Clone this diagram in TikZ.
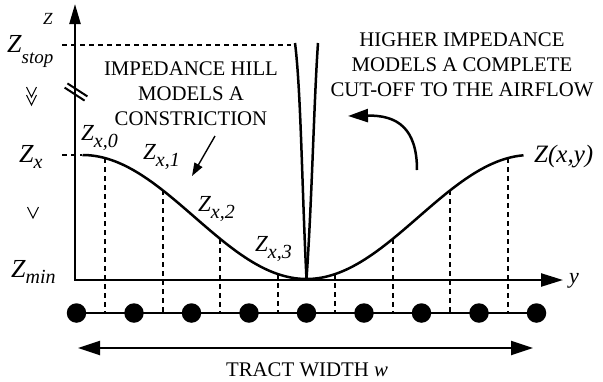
\documentclass[tikz,border=0pt]{standalone}
\usepackage{fontspec}
\setmainfont{Liberation Serif}
\usetikzlibrary{arrows.meta}
\newcommand\ZZ[4]{{\fontsize{#1}{#1}\selectfont\itshape Z}\raisebox{-#3}{\fontsize{#2}{#2}\selectfont\itshape #4}}
\begin{document}
\begin{tikzpicture}[x=1pt,y=-1pt,
  curve/.style={line width=2.5pt},
  dsh/.style={line width=2.3pt, dash pattern=on 5pt off 4pt},
  vmark/.style={line width=1pt},
  lbl/.style={inner sep=0pt, anchor=base west},
  captxt/.style={inner sep=0pt, anchor=base, font=\fontsize{20.8}{25}\selectfont},
  dot/.style={circle, fill=black, inner sep=0pt, minimum size=19.5pt},
]
\useasboundingbox (0,0) rectangle (603,381);
% axes
\coordinate (ytop) at (75,4);
\coordinate (O) at (75,280);
\coordinate (xend) at (563,280);
\draw[line width=2.3pt, arrows={Triangle[length=20pt,width=11pt]-Triangle[length=22pt,width=13pt]}] (ytop) -- (O) -- (xend);
% axis break
\draw[line width=2pt] (67.4,83.4) -- (87.4,96.4);
\draw[line width=2pt] (64.6,87.6) -- (84.6,100.6);
% much-greater marks
\draw[vmark] (26.5,87) -- (31.5,97) -- (36.5,87);
\draw[vmark] (26.5,95) -- (31.5,105) -- (36.5,95);
\draw[vmark] (27.5,207) -- (33,218) -- (38.5,207);
% dashed levels
\draw[dsh] (62,45) -- (291,45);
\draw[dsh] (62,155) -- (82,155);
% impedance curve
\draw[curve] plot[domain=-224:217,samples=150] ({306.5+\x},{279-62*(1-cos(\x/224*180))});
% spike
\draw[curve] (306.5,279) .. controls (302,190) and (301,90) .. (295,43);
\draw[curve] (306.5,279) .. controls (312,200) and (314,100) .. (318,43);
% sample lines
\foreach \i in {0,...,7}{
  \pgfmathsetmacro\xx{105.25+57.5*\i}
  \pgfmathsetmacro\yy{279-62*(1-cos((\xx-306.5)/224*180))}
  \draw[dsh] (\xx,\yy) -- (\xx,313);
}
% dots
\foreach \i in {0,...,8}{
  \node[dot] (d\i) at ({76.5+57.5*\i},313) {};
}
\draw[line width=2.3pt] (d0.center) -- (d8.center);
% width arrow
\coordinate (wl) at (78,348);
\coordinate (wr) at (533,348);
\draw[line width=2.3pt, {Triangle[length=22pt,width=14pt]}-{Triangle[length=22pt,width=14pt]}] (wl) -- (wr);
\node[captxt] (tw) at (307,376) {TRACT WIDTH \textit{w}};
% curved arrow
\coordinate (ca) at (417,170);
\coordinate (cb) at (348,116);
\draw[line width=2.5pt,-{Triangle[length=20pt,width=13pt]}] (ca) .. controls (417,128) and (397,115) .. (cb);
% small pointer
\coordinate (pa) at (215,136);
\coordinate (pb) at (192,176);
\draw[line width=1.4pt,-{Triangle[length=13pt,width=9pt]}] (pa) -- (pb);
% texts
\node[captxt] (l1) at (191,75) {IMPEDANCE HILL};
\node[captxt] (l2) at (191,100) {MODELS A};
\node[captxt] (l3) at (191,125) {CONSTRICTION};
\node[captxt] (r1) at (462,46) {HIGHER IMPEDANCE};
\node[captxt] (r2) at (462,71) {MODELS A COMPLETE};
\node[captxt] (r3) at (462,96) {CUT-OFF TO THE AIRFLOW};
% labels
\node[lbl] (zax) at (43,24) {\fontsize{17}{17}\selectfont\itshape Z};
\node[lbl] (yax) at (569,283) {\fontsize{22}{22}\selectfont\itshape y};
\node[lbl] (zstop) at (7,52) {\ZZ{26}{19}{11pt}{stop}};
\node[lbl] (zx) at (19,162) {\ZZ{26}{20}{6pt}{x}};
\node[lbl] (zmin) at (11,277) {\ZZ{26}{20}{6pt}{min}};
\node[lbl] (zx0) at (81,140) {\ZZ{23}{20}{7pt}{x,0}};
\node[lbl] (zx1) at (143,159) {\ZZ{23}{20}{7pt}{x,1}};
\node[lbl] (zx2) at (198,211) {\ZZ{23}{20}{7pt}{x,2}};
\node[lbl] (zx3) at (255,251) {\ZZ{23}{20}{7pt}{x,3}};
\node[lbl] (zxy) at (534,162) {\fontsize{25}{25}\selectfont\itshape Z(x,y)};
\end{tikzpicture}
\end{document}
